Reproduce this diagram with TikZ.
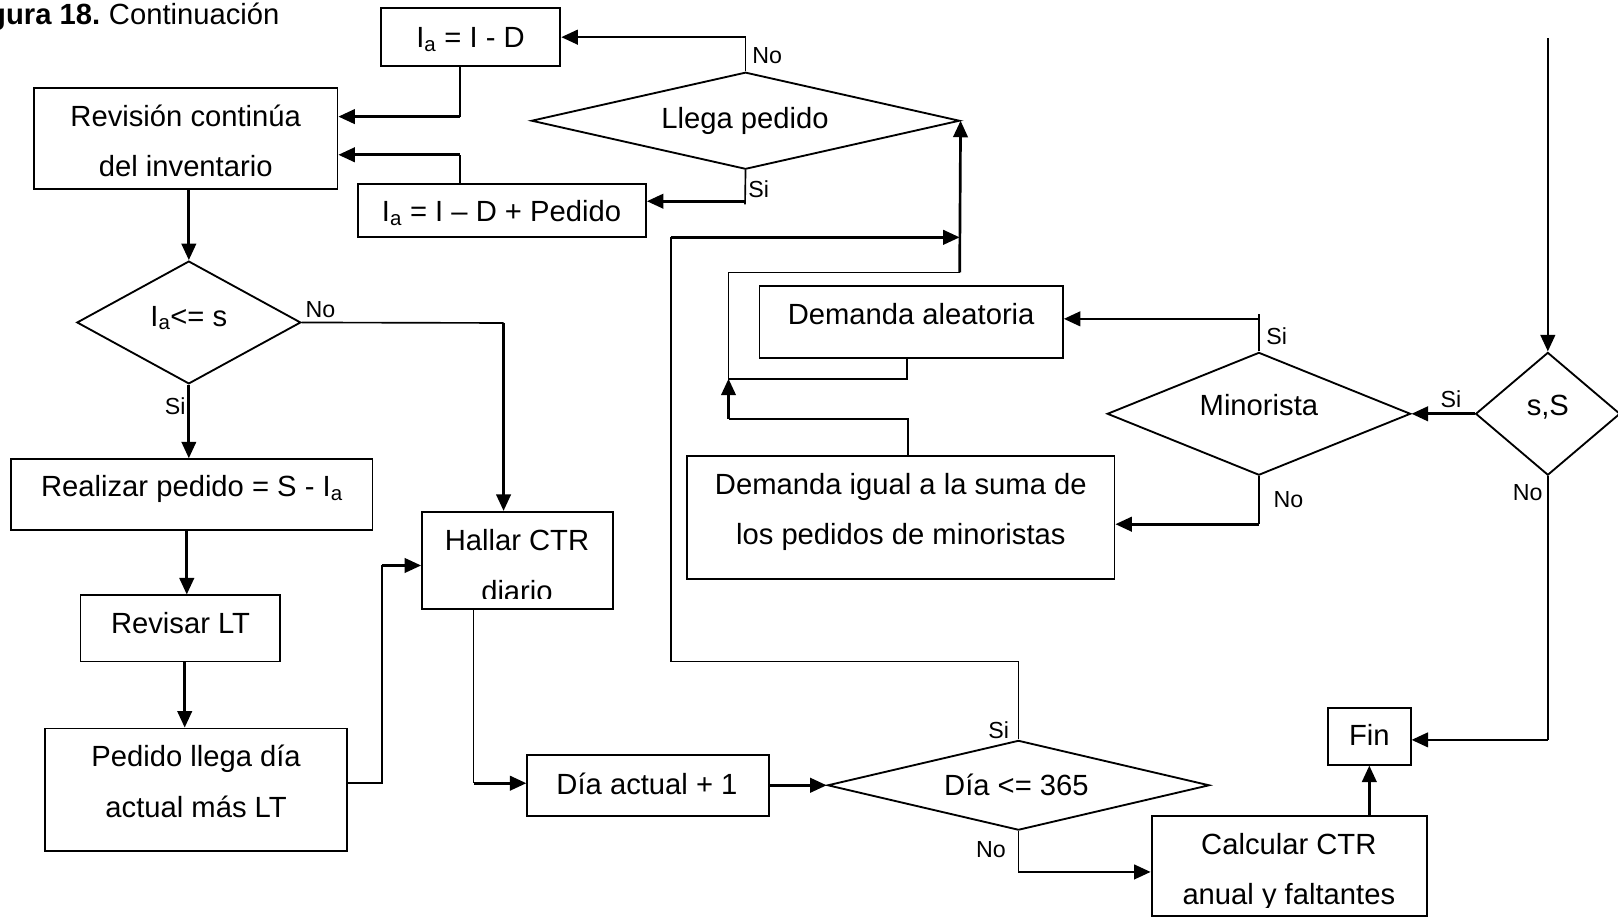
\documentclass[tikz,border=0pt]{standalone}
\usepackage{fontspec}
\setmainfont{Liberation Sans}
\usetikzlibrary{shapes.geometric,arrows.meta}

\begin{document}
\begin{tikzpicture}[x=1pt,y=-1pt,
  box/.style={draw, line width=1.8pt, inner sep=0pt, rectangle},
  dec/.style={draw, line width=1.8pt, inner sep=0pt, diamond},
  txt/.style={font=\fontsize{28.3}{49}\selectfont, inner sep=0pt, anchor=base},
  lab/.style={font=\fontsize{22.5}{26}\selectfont, inner sep=0pt},
  line/.style={line width=1.6pt},
  arr/.style={line width=2.6pt, -{Triangle[length=16pt,width=14pt]}},
]
\useasboundingbox (0,0) rectangle (1568,889);

% title
\node[txt, anchor=base east] (title) at (271,24) {\textbf{Figura 18.}\hspace{-2pt} Continuación};

% process boxes
\node[box, minimum width=174pt, minimum height=56pt] (ia1) at (456,36) {};
\node[txt] (ia1-t) at (456,46) {I\textsubscript{a} = I - D};

\node[box, minimum width=294pt, minimum height=98pt] (revision) at (180,134) {};
\node[txt] (revision-t1) at (180,123) {Revisión continúa};
\node[txt] (revision-t2) at (180,171) {del inventario};

\node[box, minimum width=279pt, minimum height=52pt] (ia2) at (486.5,204) {};
\node[txt] (ia2-t) at (486,215) {I\textsubscript{a} = I – D + Pedido};

\node[box, minimum width=350pt, minimum height=69pt] (realizar) at (186,479.5) {};
\node[txt] (realizar-t) at (186,481) {Realizar pedido = S - I\textsubscript{a}};

\node[box, minimum width=193pt, minimum height=64pt] (revisar) at (174.5,609) {};
\node[txt] (revisar-t) at (175,614) {Revisar LT};

\node[box, minimum width=292pt, minimum height=119pt] (llegalt) at (190,765.5) {};
\node[txt] (llegalt-t1) at (190,743) {Pedido llega día};
\node[txt] (llegalt-t2) at (190,792) {actual más LT};

\node[box, minimum width=185pt, minimum height=94pt] (hallar) at (501.5,543) {};
\node[txt] (hallar-t1) at (501,533) {Hallar CTR};
\begin{scope}
  \clip (409,496) rectangle (594,580);
  \node[txt] (hallar-t2) at (501,583) {diario};
\end{scope}

\node[box, minimum width=234pt, minimum height=59pt] (diaact) at (628,761.5) {};
\node[txt] (diaact-t) at (627,770) {Día actual + 1};

\node[box, minimum width=267pt, minimum height=97pt] (calc) at (1249.5,839.5) {};
\node[txt] (calc-t1) at (1249,828) {Calcular CTR};
\begin{scope}
  \clip (1116,791) rectangle (1383,879);
  \node[txt] (calc-t2) at (1249,877) {anual y faltantes};
\end{scope}

\node[box, minimum width=80pt, minimum height=55pt] (fin) at (1327,713.5) {};
\node[txt] (fin-t) at (1327,722) {Fin};

\node[box, minimum width=294pt, minimum height=70pt] (aleat) at (883,312) {};
\node[txt] (aleat-t) at (883,314) {Demanda aleatoria};

\node[box, minimum width=414pt, minimum height=119pt] (igual) at (873,501.5) {};
\node[txt] (igual-t1) at (873,479) {Demanda igual a la suma de};
\node[txt] (igual-t2) at (873,528) {los pedidos de minoristas};

% decisions
\node[dec, minimum width=415pt, minimum height=94pt] (llega) at (722.5,117) {};
\node[txt] (llega-t) at (722,125) {Llega pedido};

\node[dec, minimum width=217pt, minimum height=119pt] (cmp) at (183,312.5) {};
\node[txt] (cmp-t) at (183,316) {I\textsubscript{a}<= s};

\node[dec, minimum width=370pt, minimum height=87pt] (dia) at (987,761) {};
\node[txt] (dia-t) at (985,771) {Día <= 365};

\node[dec, minimum width=140pt, minimum height=119pt] (ss) at (1500,401) {};
\node[txt] (ss-t) at (1500,403) {s,S};

\node[dec, minimum width=294pt, minimum height=119pt] (mino) at (1220,401) {};
\node[txt] (mino-t) at (1220,403) {Minorista};

% bend points of the connectors
\coordinate (b1) at (446,113);
\coordinate (b2) at (722,195);
\coordinate (b3) at (446,150);
\coordinate (b4) at (488,313);
\coordinate (b5) at (181,0);
\coordinate (b5b) at (179,0);
\coordinate (b6) at (370,759);
\coordinate (b7) at (370,548);
\coordinate (b8) at (459,759);
\coordinate (b9) at (650,641);
\coordinate (b10) at (650,230);
\coordinate (b10e) at (930,230);
\coordinate (b11) at (0,845);
\coordinate (b12) at (0,717);
\coordinate (b13) at (0,309);
\coordinate (b14) at (0,508);
\coordinate (b15) at (880,406);
\coordinate (b16) at (706,406);
\coordinate (b17) at (706,367);
\coordinate (b18) at (879,367);
\coordinate (b19) at (706,264);
\coordinate (b20) at (930,264);
\coordinate (top) at (1500,37);

% connectors: plain legs thin, the leg with the arrowhead heavier
\draw[line] (llega.north) -- (llega.north |- ia1.east);
\draw[arr] (llega.north |- ia1.east) -- (ia1.east);

\draw[line] (ia1.south -| b1) -- (b1);
\draw[arr] (b1) -- (revision.east |- b1);

\draw[line] (llega.south) -- ([yshift=-3pt]b2);
\draw[arr] (b2) -- (ia2.east |- b2);

\draw[line] (ia2.north -| b3) -- (b3);
\draw[arr] (b3) -- (revision.east |- b3);

\draw[arr] (revision.south -| cmp.north) -- (cmp.north);

\draw[line] (cmp.east) -- (b4);
\draw[arr] (b4) -- (hallar.north -| b4);

\draw[arr] (cmp.south) -- (realizar.north -| cmp.south);
\draw[arr] (realizar.south -| b5) -- (revisar.north -| b5);
\draw[arr] (revisar.south -| b5b) -- (llegalt.north -| b5b);

\draw[line] (llegalt.east |- b6) -- (b6) -- (b7);
\draw[arr] (b7) -- (hallar.west |- b7);

\draw[line] (hallar.south -| b8) -- (b8);
\draw[arr] (b8) -- (diaact.west |- b8);

\draw[arr] (diaact.east |- dia.west) -- (dia.west);

\draw[line] (dia.north) |- (b9) -- (b10);
\draw[arr] (b10) -- (b10e);

\draw[line] (dia.south) -- (dia.south |- b11);
\draw[arr] (dia.south |- b11) -- (calc.west |- b11);

\draw[arr] (calc.north -| fin.south) -- (fin.south);
\draw[arr] (top) -- (ss.north);

\draw[line] (ss.south) -- (ss.south |- b12);
\draw[arr] (ss.south |- b12) -- (fin.east |- b12);

\draw[arr] (ss.west) -- (mino.east);

\draw[line] (mino.north) -- ([yshift=5pt]mino.north |- b13);
\draw[arr] (mino.north |- b13) -- (aleat.east |- b13);

\draw[line] (mino.south) -- (mino.south |- b14);
\draw[arr] (mino.south |- b14) -- (igual.east |- b14);

\draw[line] (igual.north -| b15) -- (b15) -- (b16);
\draw[arr] (b16) -- (b17);

\draw[line] (aleat.south -| b18) -- (b18) -- (b17) -- (b19) -- (b20);
\draw[arr] (b20) -- (llega.east);

% branch labels
\node[lab, anchor=base west] (no1) at (729,62) {No};
\node[lab, anchor=base west] (si1) at (725,191) {Si};
\node[lab, anchor=base west] (no2) at (296,308) {No};
\node[lab, anchor=base east] (si2) at (180,402) {Si};
\node[lab, anchor=base east] (si3) at (978,716) {Si};
\node[lab, anchor=base east] (no3) at (975,831) {No};
\node[lab, anchor=base west] (si4) at (1227,334) {Si};
\node[lab, anchor=base west] (no4) at (1234,492) {No};
\node[lab, anchor=base west] (si5) at (1396,395) {Si};
\node[lab, anchor=base east] (no5) at (1495,485) {No};
\end{tikzpicture}
\end{document}
